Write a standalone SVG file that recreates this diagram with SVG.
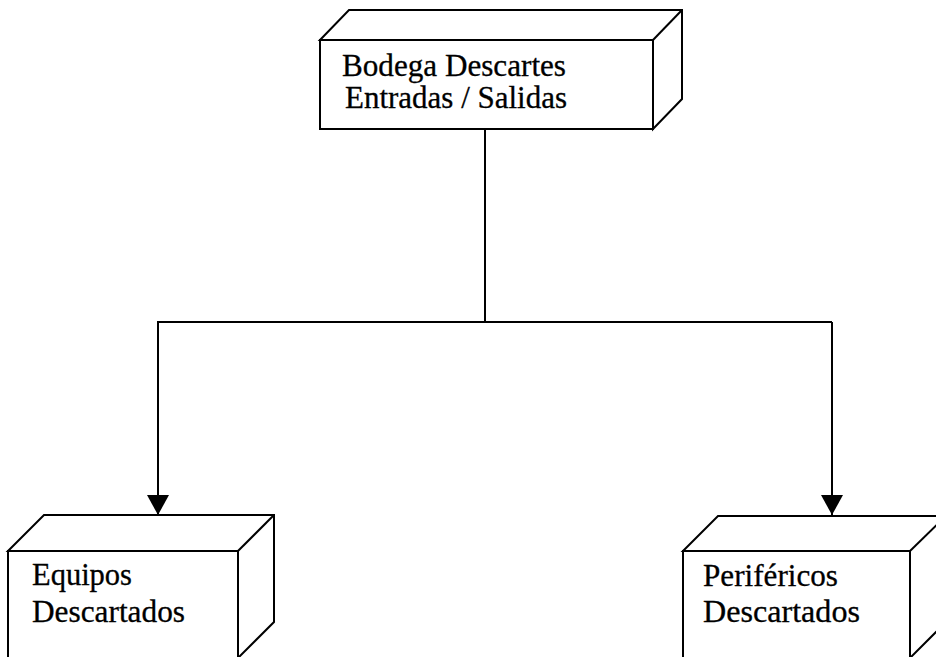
<svg xmlns="http://www.w3.org/2000/svg" width="936" height="657" viewBox="0 0 936 657">
  <style>
    .box { fill: #fff; stroke: #000; stroke-width: 2; stroke-linejoin: miter; }
    .edge { fill: none; stroke: #000; stroke-width: 2; }
    .lbl { font-family: "Liberation Serif", "Times New Roman", serif; font-size: 31px; fill: #000; stroke: #000; stroke-width: 0.3; }
    .wire { fill: none; stroke: #000; stroke-width: 2; }
  </style>
  <defs>
    <marker id="arrow" viewBox="0 0 20 22" refX="20" refY="11" markerWidth="20" markerHeight="22" markerUnits="userSpaceOnUse" orient="auto">
      <path d="M0,0 L20,11 L0,22 Z" fill="#000"/>
    </marker>
  </defs>
  <rect width="936" height="657" fill="#fff"/>

  <!-- root node -->
  <g id="bodega">
    <path class="box" d="M320,40 L349,10 L682,10 L682,99 L653,129 L653,40 Z"/>
    <rect class="box" x="320" y="40" width="333" height="89"/>
    <path class="edge" d="M653,40 L682,10"/>
    <text class="lbl" x="342" y="76" textLength="224" lengthAdjust="spacingAndGlyphs">Bodega Descartes</text>
    <text class="lbl" x="345" y="108" textLength="222" lengthAdjust="spacingAndGlyphs">Entradas / Salidas</text>
  </g>

  <!-- left child -->
  <g id="equipos">
    <path class="box" d="M8,551 L44,515 L274,515 L274,622 L238,658 L238,551 Z"/>
    <rect class="box" x="8" y="551" width="230" height="120"/>
    <path class="edge" d="M238,551 L274,515"/>
    <text class="lbl" x="32" y="585" textLength="100" lengthAdjust="spacingAndGlyphs">Equipos</text>
    <text class="lbl" x="32" y="622" textLength="153" lengthAdjust="spacingAndGlyphs">Descartados</text>
  </g>

  <!-- right child -->
  <g id="perifericos">
    <path class="box" d="M683,551 L718,516 L946,516 L946,622 L910,658 L910,551 Z"/>
    <rect class="box" x="683" y="551" width="227" height="120"/>
    <path class="edge" d="M910,551 L946,516"/>
    <text class="lbl" x="703" y="586" textLength="135" lengthAdjust="spacingAndGlyphs">Periféricos</text>
    <text class="lbl" x="703" y="622" textLength="157" lengthAdjust="spacingAndGlyphs">Descartados</text>
  </g>

  <!-- connectors -->
  <g id="connectors">
    <path class="wire" d="M485,129 L485,322"/>
    <path class="wire" d="M157,322 L832,322"/>
    <path class="wire" d="M158,322 L158,515" marker-end="url(#arrow)"/>
    <path class="wire" d="M832,322 L832,515" marker-end="url(#arrow)"/>
  </g>
</svg>
